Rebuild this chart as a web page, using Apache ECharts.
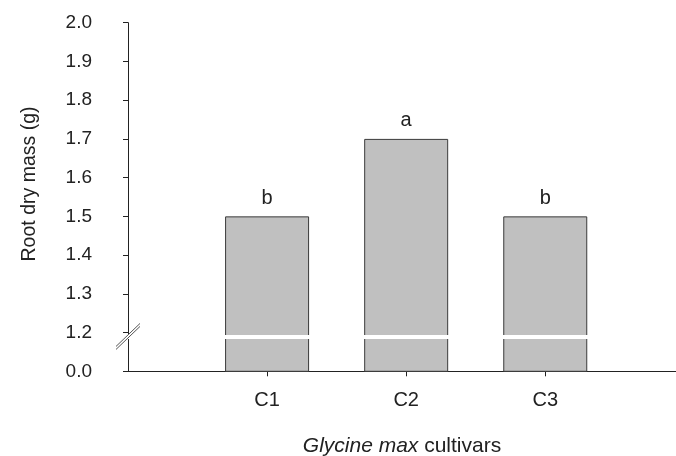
<!DOCTYPE html>
<html>
<head>
<meta charset="utf-8">
<script src="https://cdn.jsdelivr.net/npm/echarts@6.0.0/dist/echarts.min.js"></script>
<style>
html,body{margin:0;padding:0;background:#fff;}
#chart{width:676px;height:456px;}
</style>
</head>
<body>
<div id="chart"></div>
<script>
// Data
const categories = ["C1", "C2", "C3"];
const values = [1.5, 1.7, 1.5];
const letters = ["b", "a", "b"];
const yTickValues = [1.1, 1.2, 1.3, 1.4, 1.5, 1.6, 1.7, 1.8, 1.9, 2.0];
const yTickLabels = ["0.0", "1.2", "1.3", "1.4", "1.5", "1.6", "1.7", "1.8", "1.9", "2.0"];
const breakValue = 1.19;

const REG = "'Liberation Sans', Arial, sans-serif";
const AX = '#222';

const chart = echarts.init(document.getElementById('chart'), null, {renderer: 'canvas'});
const option = {
  animation: false,
  backgroundColor: '#fff',
  grid: {left: 128, right: 0, top: 22.7, bottom: 84.7, containLabel: false, outerBoundsMode: 'none'},
  xAxis: {
    type: 'value',
    min: 0,
    max: 3.94,
    interval: 1,
    splitLine: {show: false},
    axisLine: {show: true, lineStyle: {color: AX, width: 1}},
    axisTick: {show: true, inside: false, length: 5, lineStyle: {color: AX}, customValues: [1, 2, 3]},
    axisLabel: {
      show: true, margin: 19, color: '#222', fontFamily: REG, fontSize: 20,
      customValues: [1, 2, 3],
      formatter: v => categories[Math.round(v) - 1] || ''
    },
    name: '{i|Glycine max} cultivars',
    nameLocation: 'middle',
    nameGap: 64,
    nameTextStyle: {
      color: '#222', fontFamily: REG, fontSize: 21,
      rich: {i: {fontStyle: 'italic', fontFamily: REG, fontSize: 21, color: '#222'}}
    }
  },
  yAxis: {
    type: 'value',
    min: 1.1,
    max: 2.0,
    interval: 0.1,
    splitLine: {show: false},
    axisLine: {show: true, lineStyle: {color: AX, width: 1}},
    axisTick: {show: true, inside: false, length: 5, lineStyle: {color: AX}},
    axisLabel: {
      margin: 36, color: '#222', fontFamily: REG, fontSize: 19,
      formatter: v => {
        const i = yTickValues.findIndex(t => Math.abs(t - v) < 1e-6);
        return i >= 0 ? yTickLabels[i] : '';
      }
    },
    name: 'Root dry mass (g)',
    nameLocation: 'middle',
    nameGap: 88,
    nameRotate: 90,
    nameTextStyle: {color: '#222', fontFamily: REG, fontSize: 19.5, padding: [0, 0, 0, 26]}
  },
  series: [{
    type: 'bar',
    barWidth: 84,
    data: values.map((v, i) => [i + 1, v]),
    itemStyle: {color: '#c0c0c0', borderColor: '#3a3a3a', borderWidth: 1},
    label: {
      show: true, position: 'top', distance: 8,
      color: '#222', fontFamily: REG, fontSize: 20,
      formatter: p => letters[p.dataIndex]
    },
    emphasis: {disabled: true},
    markLine: {
      silent: true,
      symbol: 'none',
      label: {show: false},
      emphasis: {disabled: true},
      lineStyle: {color: '#fff', width: 4, type: 'solid'},
      data: [{yAxis: breakValue}]
    }
  }]
};
chart.setOption(option);

// Axis break marker "//" positioned through the axis scale
const p = chart.convertToPixel({xAxisIndex: 0, yAxisIndex: 0}, [0, breakValue]);
const cx = p[0], cy = p[1];
chart.setOption({
  graphic: [
    {type: 'polygon', z: 100, shape: {points: [[cx - 12, cy + 10], [cx + 12, cy - 13], [cx + 12, cy - 10], [cx - 12, cy + 13]]},
     style: {fill: '#fff'}},
    {type: 'line', z: 101, shape: {x1: cx - 12, y1: cy + 10, x2: cx + 12, y2: cy - 13}, style: {stroke: '#555', lineWidth: 1}},
    {type: 'line', z: 101, shape: {x1: cx - 12, y1: cy + 13, x2: cx + 12, y2: cy - 10}, style: {stroke: '#555', lineWidth: 1}}
  ]
});
</script>
</body>
</html>
